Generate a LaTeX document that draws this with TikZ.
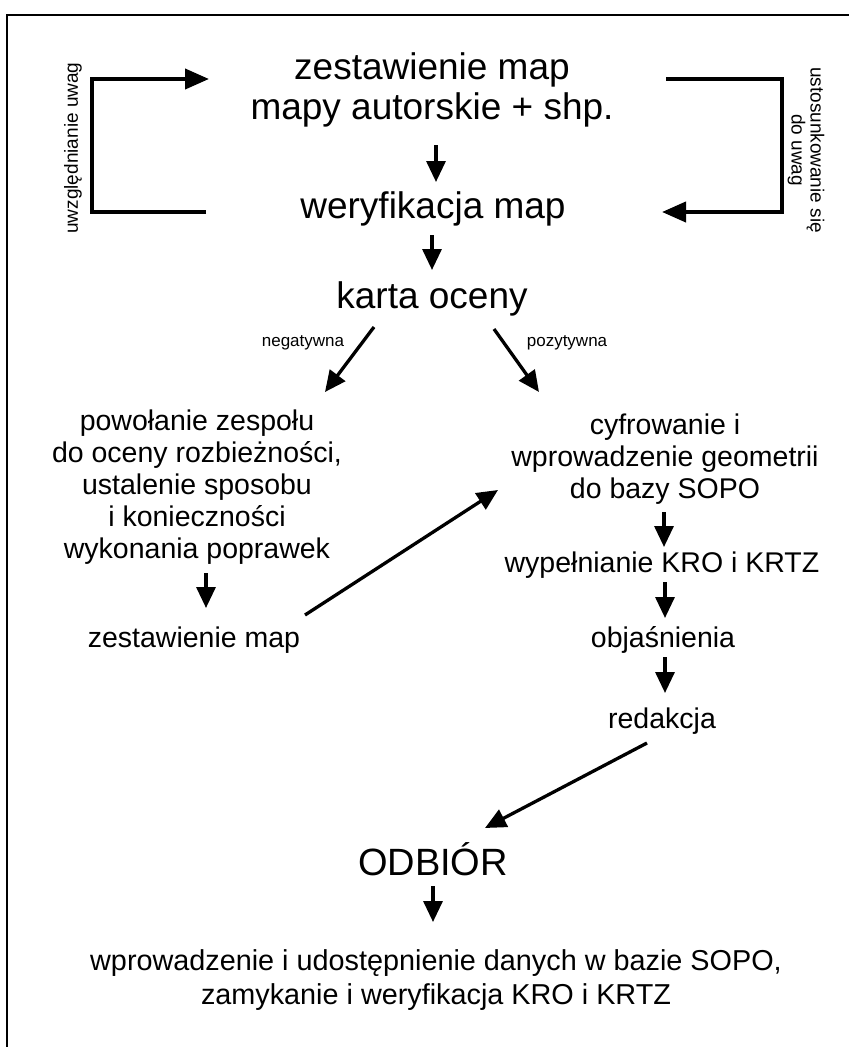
\documentclass[tikz,border=0pt]{standalone}
\usepackage{fontspec}
\setmainfont{Liberation Sans}
\usetikzlibrary{arrows.meta,calc}

\begin{document}
\begin{tikzpicture}[x=1pt, y=-1pt,
    big/.style={font=\fontsize{37}{40}\selectfont, align=center, inner sep=0pt},
    txt/.style={font=\fontsize{28.5}{32}\selectfont, align=center, inner sep=0pt},
    lbl/.style={font=\fontsize{17}{19}\selectfont, inner sep=0pt},
    side/.style={font=\fontsize{19}{19}\selectfont, align=center, inner sep=0pt},
    arr/.style={-{Triangle[length=21pt, width=19pt]}, line width=3.3pt},
    fb/.style={-{Triangle[length=24pt, width=20pt]}, line width=4pt}
  ]
  \useasboundingbox (0,0) rectangle (849,1047);
  % frame
  \draw[line width=1.5pt] (7,1047) -- (7,15) -- (849,15);

  % top loop
  \node[big] (top) at (432,90) {zestawienie map\\mapy autorskie + shp.};
  \node[big, anchor=base] (wer) at (433,218) {weryfikacja map};
  \node[side, rotate=90] (lside) at (73,148) {uwzględnianie uwag};
  \node[side, rotate=-90] (rside) at (806,150) {ustosunkowanie się\\do uwag};
  \draw[fb] ($(wer.base)+(-227,-6)$) -| ($(top.center)+(-340,-11)$) -- ($(top.center)+(-223,-11)$);
  \draw[fb] ($(top.center)+(234,-11)$) -| ($(wer.base)+(349,-6)$) -- ($(wer.base)+(229,-6)$);
  \draw[arr] ($(top.center)+(4,55)$) -- ($(wer.base)+(3,-36)$);

  % evaluation
  \node[big, anchor=base] (karta) at (432,308) {karta oceny};
  \draw[arr] ($(wer.base)+(-1,17)$) -- ($(karta.base)+(0,-38)$);
  \node[lbl, anchor=base] (neg) at (303,346) {negatywna};
  \node[lbl, anchor=base] (poz) at (567,346) {pozytywna};

  % negative branch
  \node[txt] (pow) at (197,487) {powołanie zespołu\\do oceny rozbieżności,\\ustalenie sposobu\\i konieczności\\wykonania poprawek};
  \node[txt, anchor=base] (zest) at (194,647) {zestawienie map};
  \draw[arr] ($(karta.base)+(-58,19)$) -- ($(pow.center)+(128,-95)$);
  \draw[arr] ($(pow.center)+(9,86)$) -- ($(zest.base)+(12,-39)$);

  % positive branch
  \node[txt] (cyf) at (665,459) {cyfrowanie i\\wprowadzenie geometrii\\do bazy SOPO};
  \node[txt, anchor=base] (wyp) at (662,572) {wypełnianie KRO i KRTZ};
  \node[txt, anchor=base] (obj) at (663,647) {objaśnienia};
  \node[txt, anchor=base] (red) at (662,728) {redakcja};
  \draw[arr] ($(karta.base)+(62,21)$) -- ($(cyf.center)+(-126,-67)$);
  \draw[arr] ($(zest.base)+(111,-32)$) -- ($(cyf.center)+(-167,31)$);
  \draw[arr] ($(cyf.center)+(-1,53)$) -- ($(wyp.base)+(2,-25)$);
  \draw[arr] ($(wyp.base)+(3,10)$) -- ($(obj.base)+(2,-29)$);
  \draw[arr] ($(obj.base)+(2,10)$) -- ($(red.base)+(3,-35)$);

  % acceptance
  \node[font=\fontsize{38}{40}\selectfont, inner sep=0pt, anchor=base] (odb) at (433,875) {ODBIÓR};
  \node[txt, font=\fontsize{28.8}{34}\selectfont] (bot) at (436,980) {wprowadzenie i udostępnienie danych w bazie SOPO,\\zamykanie i weryfikacja KRO i KRTZ};
  \draw[arr] ($(red.base)+(-15,15)$) -- ($(odb.base)+(52,-47)$);
  \draw[arr] ($(odb.base)+(0,11)$) -- ($(bot.center)+(-3,-58)$);
\end{tikzpicture}
\end{document}
